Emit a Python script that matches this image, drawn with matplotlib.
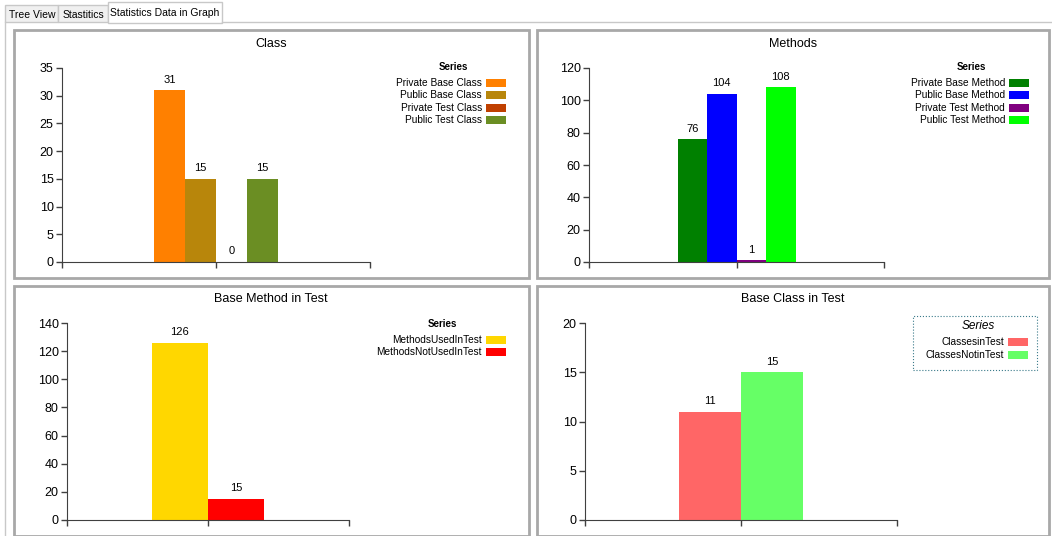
import matplotlib.pyplot as plt
from matplotlib.patches import Rectangle

W, H = 1052, 536

# data
class_names = ["Private Base Class", "Public Base Class", "Private Test Class", "Public Test Class"]
class_values = [31, 15, 0, 15]
class_colors = ["#FF8000", "#B8860B", "#C04000", "#6B8E23"]

method_names = ["Private Base Method", "Public Base Method", "Private Test Method", "Public Test Method"]
method_values = [76, 104, 1, 108]
method_colors = ["#008000", "#0000FF", "#800080", "#00FF00"]

base_method_names = ["MethodsUsedInTest", "MethodsNotUsedInTest"]
base_method_values = [126, 15]
base_method_colors = ["#FFD700", "#FF0000"]

base_class_names = ["ClassesinTest", "ClassesNotinTest"]
base_class_values = [11, 15]
base_class_colors = ["#FF6666", "#66FF66"]

plt.rcParams['font.family'] = ['Liberation Sans', 'DejaVu Sans']

fig = plt.figure(figsize=(W / 100, H / 100), dpi=100)
fig.patch.set_facecolor("white")


def fx(x):
    return x / W


def fy(y):
    return 1 - y / H


def rect(x0, y0, x1, y1, **kw):
    fig.add_artist(Rectangle((fx(x0), fy(y1)), fx(x1 - x0), (y1 - y0) / H,
                             transform=fig.transFigure, **kw))


# tab strip
rect(5, 5, 58, 22, facecolor="#F0F0F0", edgecolor="#C8C8C8", lw=1, zorder=-1)
rect(58, 5, 108, 22, facecolor="#F0F0F0", edgecolor="#C8C8C8", lw=1, zorder=-1)
rect(108, 2, 222, 23, facecolor="white", edgecolor="#C8C8C8", lw=1, zorder=-1)
fig.text(fx(32), fy(14.5), "Tree View", ha="center", va="center", fontsize=7.5)
fig.text(fx(83), fy(14.5), "Stastitics", ha="center", va="center", fontsize=7.5)
fig.text(fx(165), fy(12.5), "Statistics Data in Graph", ha="center", va="center", fontsize=7.5)
fig.add_artist(plt.Line2D([fx(222), fx(W)], [fy(22), fy(22)], color="#C8C8C8", lw=1,
                          transform=fig.transFigure))
fig.add_artist(plt.Line2D([fx(5), fx(5)], [fy(22), fy(H)], color="#C8C8C8", lw=1,
                          transform=fig.transFigure))

# panels
panels = [
    (14, 30, 529, 278),
    (537, 30, 1049, 278),
    (14, 286, 529, 536),
    (537, 286, 1049, 536),
]
for p in panels:
    rect(*p, facecolor="white", edgecolor="#A8A8A8", lw=2, zorder=-1)


def chart(box, title, title_x, title_y, names, values, colors, ymax, ystep, width):
    x0, y0, x1, y1 = box
    ax = fig.add_axes([fx(x0), fy(y1), fx(x1 - x0), (y1 - y0) / H])
    ax.set_zorder(5)
    ax.set_facecolor("none")
    n = len(values)
    pos = [(-(n - 1) / 2 + i) * width for i in range(n)]
    bars = ax.bar(pos, values, width=width, color=colors, linewidth=0)
    for b, v in zip(bars, values):
        ax.annotate(str(v), (b.get_x() + b.get_width() / 2, v), xytext=(0, 4),
                    textcoords="offset points", ha="center", va="bottom", fontsize=8)
    ax.set_xlim(-1, 1)
    ax.set_ylim(0, ymax)
    ax.set_yticks(range(0, ymax + 1, ystep))
    ax.set_xticks([-1, 0, 1])
    ax.set_xticklabels([])
    ax.spines[['top', 'right']].set_visible(False)
    for s in ('left', 'bottom'):
        ax.spines[s].set_color("#404040")
    ax.tick_params(labelsize=9, length=4, width=1, direction="out", pad=2, color="#404040")
    fig.text(fx(title_x), fy(title_y), title, ha="center", va="center", fontsize=9)
    return ax


chart((62, 68, 370, 262), "Class", 271, 44, class_names, class_values, class_colors, 35, 5, 0.2)
chart((589, 68, 884, 262), "Methods", 793, 44, method_names, method_values, method_colors, 120, 20, 0.2)
chart((67, 323, 349, 520), "Base Method in Test", 271, 299, base_method_names, base_method_values,
      base_method_colors, 140, 20, 0.4)
chart((585, 323, 897, 520), "Base Class in Test", 793, 299, base_class_names, base_class_values,
      base_class_colors, 20, 5, 0.4)


def legend(series_x, series_y, label_right, swatch_x, ys, names, colors, italic=False):
    if italic:
        fig.text(fx(series_x), fy(series_y), "Series", ha="center", va="center",
                 fontsize=8.5, style="italic")
    else:
        fig.text(fx(series_x), fy(series_y), "Series", ha="center", va="center",
                 fontsize=7, fontweight="bold")
    for y, name, c in zip(ys, names, colors):
        fig.text(fx(label_right), fy(y), name, ha="right", va="center", fontsize=7.3)
        rect(swatch_x, y - 4, swatch_x + 20, y + 4, facecolor=c, edgecolor="none")


legend(453, 67, 482, 486, [83, 95, 108, 120], class_names, class_colors)
legend(971, 67, 1005, 1009, [83, 95, 108, 120], method_names, method_colors)
legend(442, 324, 482, 486, [340, 352], base_method_names, base_method_colors)
rect(913, 316, 1037, 370, facecolor="none", edgecolor="#3A7A8A", lw=0.8, linestyle=":")
legend(978, 326, 1004, 1008, [342, 355], base_class_names, base_class_colors, italic=True)

fig.savefig("out.png", dpi=100)
